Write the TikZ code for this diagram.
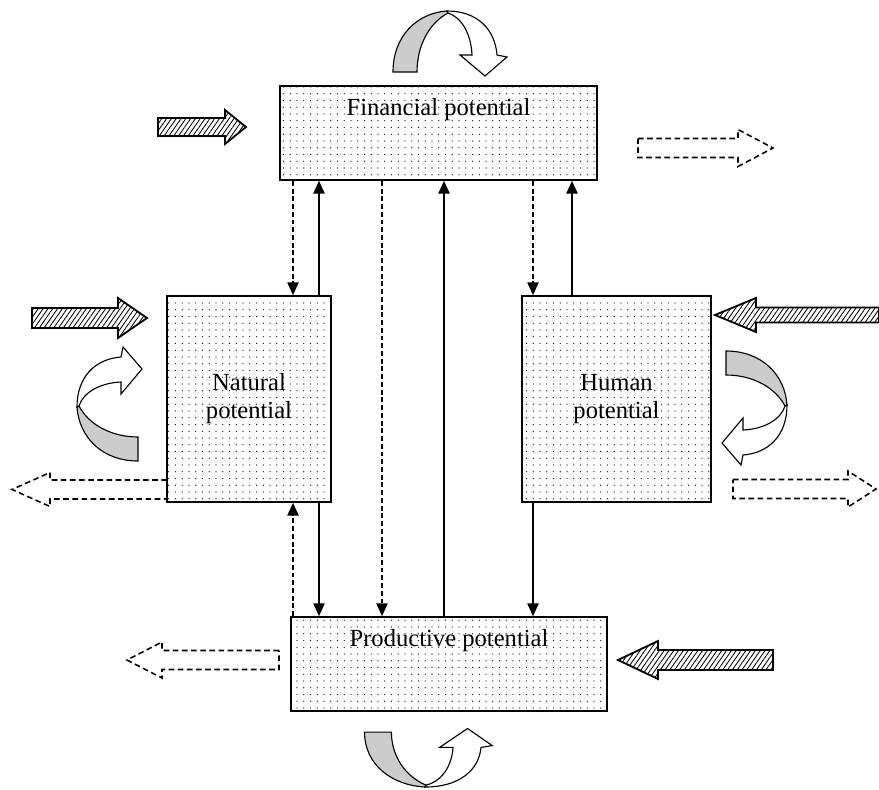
\documentclass[tikz,border=0pt]{standalone}
\usepackage{fontspec}
\setmainfont{Liberation Serif}
\usetikzlibrary{positioning,patterns.meta,arrows.meta}

% block arrow: style, tail x, head base x, tip x, y, shaft half, head half
\newcommand{\blockarrow}[7]{%
  \draw[#1] (#2,{#5-#6}) -- (#3,{#5-#6}) -- (#3,{#5-#7}) -- (#4,#5)
    -- (#3,{#5+#7}) -- (#3,{#5+#6}) -- (#2,{#5+#6}) -- cycle;}

\tikzset{uturn/.pic={
  \filldraw[fill=gray!40,line width=0.8pt] (-54,61) .. controls (-54,25) and (-30,2) .. (0,0)
    -- (1,2) .. controls (-18,12) and (-30,35) .. (-30,61) -- cycle;
  \filldraw[fill=white,line width=0.8pt] (0,0) .. controls (30,0) and (48,18) .. (50,44)
    -- (60,46) -- (38,65) -- (13,44) -- (25,44) .. controls (24,22) and (14,6) .. (1,2) -- cycle;
}}

\begin{document}
\begin{tikzpicture}[x=0.025cm,y=-0.025cm,>={Triangle[width=8pt,length=9pt]},
                    font=\fontsize{17.5}{20}\selectfont,node distance=9pt]
  \tikzstyle{potential}=[draw=black,line width=1.2pt,inner sep=0pt,align=center,
                         pattern={Dots[distance=4.8pt,radius=0.38pt]}]
  \tikzstyle{caption}=[inner sep=0pt]
  \tikzstyle{link}=[draw=black,line width=0.9pt]
  \tikzstyle{dlink}=[link,dash pattern=on 3.5pt off 2pt]
  \tikzstyle{hatched}=[draw=black,line width=1.3pt,
                       pattern={Lines[angle=55,distance=2.8pt,line width=0.6pt]}]
  \tikzstyle{outflow}=[draw=black,line width=1.1pt,dash pattern=on 4pt off 2.5pt]

  \useasboundingbox (0,0) rectangle (879,789);

  \node[potential,minimum width=7.925cm,minimum height=2.35cm] (F) at (438.5,133) {};
  \node[caption] (Ft) [below=of F.north] {Financial potential};
  \node[potential,minimum width=4.1cm,minimum height=5.15cm]   (N) at (249,399)   {Natural\\potential};
  \node[potential,minimum width=4.725cm,minimum height=5.15cm] (H) at (616.5,399) {Human\\potential};
  \node[potential,minimum width=7.9cm,minimum height=2.35cm]   (P) at (449,664)   {};
  \node[caption] (Pt) [below=of P.north] {Productive potential};

  % flows between the potentials
  \coordinate (c1) at (293,0);
  \coordinate (c2) at (319,0);
  \coordinate (c3) at (382,0);
  \coordinate (c4) at (444,0);
  \coordinate (c5) at (533,0);
  \coordinate (c6) at (572,0);
  \draw[dlink,->] (F.south -| c1) -- (N.north -| c1);
  \draw[link,->]  (N.north -| c2) -- (F.south -| c2);
  \draw[dlink,->] (F.south -| c3) -- (P.north -| c3);
  \draw[link,->]  (P.north -| c4) -- (F.south -| c4);
  \draw[dlink,->] (F.south -| c5) -- (H.north -| c5);
  \draw[link,->]  (H.north -| c6) -- (F.south -| c6);
  \draw[dlink,->] (P.north -| c1) -- (N.south -| c1);
  \draw[link,->]  (N.south -| c2) -- (P.north -| c2);
  \draw[link,->]  (H.south -| c5) -- (P.north -| c5);

  % inflows
  \blockarrow{hatched}{158}{225}{246}{127}{9}{17}
  \blockarrow{hatched}{32}{118}{147}{318}{10}{20}
  \blockarrow{hatched}{879}{756}{715}{315}{7.5}{17}
  \blockarrow{hatched}{773}{658}{618}{660}{10}{19}
  % outflows
  \blockarrow{outflow}{638}{738}{773}{148}{9.5}{18.5}
  \blockarrow{outflow}{167}{50}{12}{489.5}{9.5}{17}
  \blockarrow{outflow}{733}{848}{876}{489}{9.5}{18}
  \blockarrow{outflow}{279}{162}{127}{660}{9.5}{18}
  % circulation inside
  \pic at (447,11) {uturn};
  \pic[rotate=90] at (77,407) {uturn};
  \pic[rotate=-90] at (787,405) {uturn};
  \pic[xscale=1.12,yscale=-0.9] at (425,787) {uturn};
\end{tikzpicture}
\end{document}
